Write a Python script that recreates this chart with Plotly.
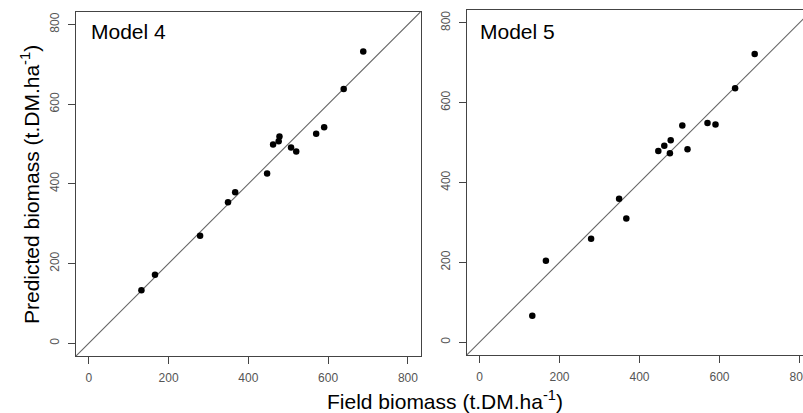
import plotly.graph_objects as go

# Data
field = [132, 166, 279, 349, 367, 447, 462, 476, 478, 507, 520, 570, 590, 639, 688]
pred_model4 = [133, 172, 270, 354, 379, 426, 499, 507, 519, 491, 481, 526, 542, 638, 732]
pred_model5 = [66, 204, 259, 359, 310, 479, 492, 473, 506, 543, 483, 549, 545, 636, 722]
panel_titles = ["Model 4", "Model 5"]
tick_vals = [0, 200, 400, 600, 800]
one_to_one = [-100, 1000]

W, H = 803, 413
axis_col = "#444444"
tick_font = dict(family="Liberation Sans, Arial, sans-serif", size=12, color="#555555")

fig = go.Figure()

for i, preds in enumerate([pred_model4, pred_model5]):
    xa = "x" if i == 0 else "x2"
    ya = "y" if i == 0 else "y2"
    fig.add_trace(go.Scatter(x=one_to_one, y=one_to_one, mode="lines",
                             line=dict(color="#666666", width=1.1),
                             xaxis=xa, yaxis=ya, showlegend=False, hoverinfo="skip"))
    fig.add_trace(go.Scatter(x=field, y=preds, mode="markers",
                             marker=dict(color="black", size=6.5),
                             xaxis=xa, yaxis=ya, showlegend=False))

common_x = dict(tickvals=tick_vals, ticks="outside", ticklen=7, tickcolor=axis_col,
                showline=True, linecolor=axis_col, linewidth=1, showgrid=False,
                zeroline=False, tickfont=tick_font, ticklabelstandoff=4)
common_y = dict(tickvals=tick_vals, ticks="outside", ticklen=7, tickcolor=axis_col,
                showline=True, linecolor=axis_col, linewidth=1, showgrid=False,
                zeroline=False, tickfont=tick_font, tickangle=-90, range=[-32, 832],
                ticklabelstandoff=4)

fig.update_layout(
    width=W, height=H,
    margin=dict(l=0, r=0, t=0, b=0, autoexpand=False),
    plot_bgcolor="white", paper_bgcolor="white",
    xaxis=dict(common_x, domain=[76 / W, 420.7 / W], range=[-32, 832], mirror=True, anchor="y"),
    yaxis=dict(common_y, domain=[1 - 356 / H, 1 - 11.7 / H], mirror=True, anchor="x"),
    xaxis2=dict(common_x, domain=[466.7 / W, 1.0], range=[-32, 808.75], mirror=True,
                anchor="y2", ticklabeloverflow="allow"),
    yaxis2=dict(common_y, domain=[1 - 355 / H, 1 - 10 / H], mirror=False, anchor="x2"),
)

title_font = dict(family="Liberation Sans, Arial, sans-serif", size=21, color="black")
fig.add_annotation(text=panel_titles[0], xref="paper", yref="paper", x=89 / W, y=1 - 31 / H,
                   xanchor="left", yanchor="middle", showarrow=False, font=title_font)
fig.add_annotation(text=panel_titles[1], xref="paper", yref="paper", x=478 / W, y=1 - 31 / H,
                   xanchor="left", yanchor="middle", showarrow=False, font=title_font)
fig.add_annotation(text="Field biomass (t.DM.ha<sup>-1</sup>)", xref="paper", yref="paper",
                   x=445 / W, y=1 - 400 / H, xanchor="center", yanchor="middle",
                   showarrow=False, font=title_font)
fig.add_annotation(text="Predicted biomass (t.DM.ha<sup>-1</sup>)", xref="paper", yref="paper",
                   x=30 / W, y=1 - 185 / H, xanchor="center", yanchor="middle",
                   textangle=-90, showarrow=False, font=title_font)

fig.write_html("out.html")
